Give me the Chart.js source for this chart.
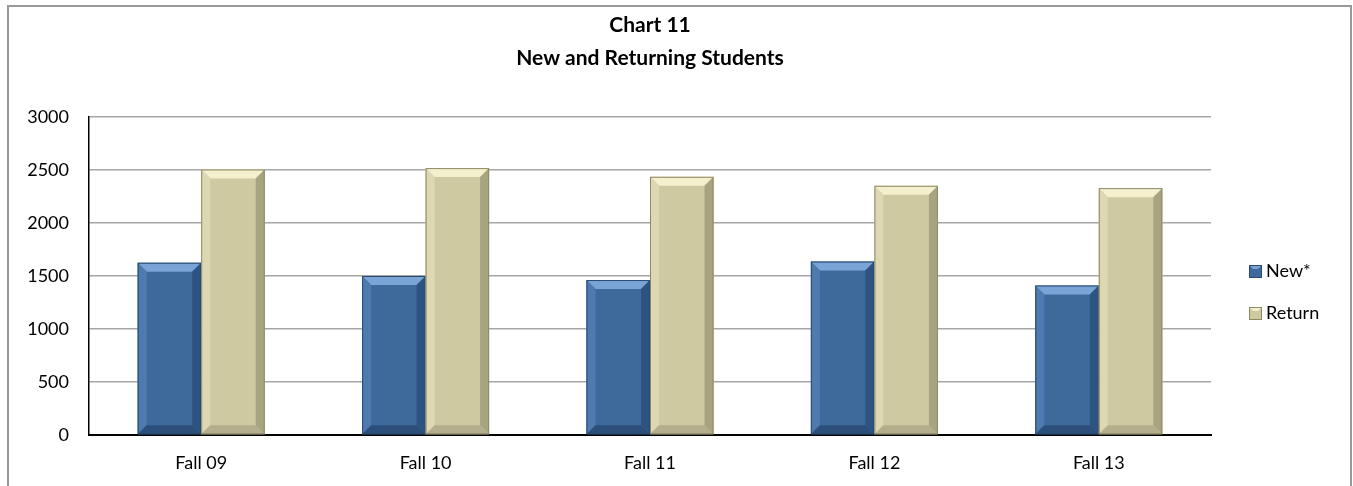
<!DOCTYPE html>
<html>
<head>
<meta charset="utf-8">
<script src="https://cdn.jsdelivr.net/npm/chart.js@4"></script>
<style>
  html, body { margin: 0; padding: 0; background: #fff; }
  #wrap { position: absolute; left: 0; top: 0; width: 1353px; height: 486px; }
  #frame {
    position: absolute; left: 7px; top: 5px; width: 1341px; height: 490px;
    border: 2px solid #999; border-bottom: none; pointer-events: none;
  }
</style>
</head>
<body>
<div id="wrap">
  <canvas id="chart" width="1353" height="486"></canvas>
  <div id="frame"></div>
</div>
<script>
// data
const categories = ['Fall 09', 'Fall 10', 'Fall 11', 'Fall 12', 'Fall 13'];
const newStudents = [1625, 1500, 1462, 1636, 1410];
const returnStudents = [2505, 2518, 2436, 2351, 2329];
const seriesNames = ['New*', 'Return'];
const titleLines = ['Chart 11', 'New and Returning Students'];

const FONT = 'Lato, "Open Sans", sans-serif';

// colours for the bevelled look: face, top, left, right, bottom, edge
const bevelColors = [
  { face: '#3e6a9b', top: '#7ba4d6', left: '#4d7bb0', right: '#2d5382', bottom: '#2b4f7a', edge: '#2a4a70' },
  { face: '#cfc9a2', top: '#f4efcc', left: '#ddd7b2', right: '#a8a380', bottom: '#b3ae8b', edge: '#8d8966' }
];

// draws the bevel edges on top of every bar
const bevelPlugin = {
  id: 'bevel',
  afterDatasetsDraw(chart) {
    const ctx = chart.ctx;
    chart.data.datasets.forEach((ds, i) => {
      const c = bevelColors[i];
      chart.getDatasetMeta(i).data.forEach(bar => {
        const l = bar.x - bar.width / 2, r = bar.x + bar.width / 2;
        const t = bar.y, b = bar.base;
        const s = Math.min(9, (b - t) / 2);
        const poly = (pts, col) => {
          ctx.beginPath();
          ctx.moveTo(pts[0][0], pts[0][1]);
          for (let k = 1; k < pts.length; k++) ctx.lineTo(pts[k][0], pts[k][1]);
          ctx.closePath();
          ctx.fillStyle = col;
          ctx.fill();
        };
        ctx.save();
        poly([[l, t], [r, t], [r - s, t + s], [l + s, t + s]], c.top);
        poly([[l, t], [l + s, t + s], [l + s, b - s], [l, b]], c.left);
        poly([[r, t], [r - s, t + s], [r - s, b - s], [r, b]], c.right);
        poly([[l, b], [l + s, b - s], [r - s, b - s], [r, b]], c.bottom);
        ctx.strokeStyle = c.edge;
        ctx.lineWidth = 1;
        ctx.strokeRect(l + 0.5, t + 0.5, r - l - 1, b - t - 1);
        ctx.restore();
      });
    });
  }
};

// two-line title, centred over the plot area
const plotTitle = {
  id: 'plotTitle',
  afterDraw(chart) {
    const ctx = chart.ctx;
    const cx = (chart.chartArea.left + chart.chartArea.right) / 2;
    const rows = [25, 58];
    ctx.save();
    ctx.font = 'bold 21px ' + FONT;
    ctx.fillStyle = '#000';
    ctx.textAlign = 'center';
    ctx.textBaseline = 'middle';
    titleLines.forEach((t, i) => ctx.fillText(t, cx, rows[i]));
    ctx.restore();
  }
};

// legend drawn at the right side, next to the plot
const sideLegend = {
  id: 'sideLegend',
  afterDraw(chart) {
    const ctx = chart.ctx;
    const x = chart.chartArea.right + 38;
    const rows = [271, 313];
    ctx.save();
    ctx.font = '18px ' + FONT;
    ctx.textBaseline = 'middle';
    chart.data.datasets.forEach((ds, i) => {
      const c = bevelColors[i];
      const y = rows[i];
      ctx.fillStyle = c.face;
      ctx.fillRect(x, y - 6, 13, 13);
      ctx.fillStyle = c.top;
      ctx.beginPath();
      ctx.moveTo(x, y - 6); ctx.lineTo(x + 13, y - 6); ctx.lineTo(x + 9, y - 2); ctx.lineTo(x + 4, y - 2);
      ctx.closePath(); ctx.fill();
      ctx.strokeStyle = c.edge;
      ctx.strokeRect(x + 0.5, y - 5.5, 12, 12);
      ctx.fillStyle = '#000';
      ctx.fillText(ds.label, x + 17, y);
    });
    ctx.restore();
  }
};

new Chart(document.getElementById('chart'), {
  type: 'bar',
  data: {
    labels: categories,
    datasets: [
      { label: seriesNames[0], data: newStudents, backgroundColor: bevelColors[0].face },
      { label: seriesNames[1], data: returnStudents, backgroundColor: bevelColors[1].face }
    ]
  },
  options: {
    responsive: false,
    animation: false,
    layout: { padding: { left: 0, right: 142, top: 117, bottom: 0 } },
    plugins: {
      legend: { display: false },
      tooltip: { enabled: false },
      title: { display: false }
    },
    datasets: {
      bar: { categoryPercentage: 0.566, barPercentage: 1 }
    },
    scales: {
      x: {
        afterFit(scale) { scale.height = 51; },
        grid: { display: false, drawTicks: false },
        border: { color: '#000', width: 2 },
        ticks: { color: '#000', font: { family: FONT, size: 18 }, padding: 17 }
      },
      y: {
        min: 0,
        max: 3000,
        afterFit(scale) { scale.width = 89; },
        grid: { color: '#a6a6a6', lineWidth: 1.5, drawTicks: false },
        border: { color: '#000', width: 1.5 },
        ticks: {
          stepSize: 500,
          color: '#000',
          font: { family: FONT, size: 18 },
          padding: 20,
          callback: v => String(v)
        }
      }
    }
  },
  plugins: [bevelPlugin, plotTitle, sideLegend]
});
</script>
</body>
</html>
